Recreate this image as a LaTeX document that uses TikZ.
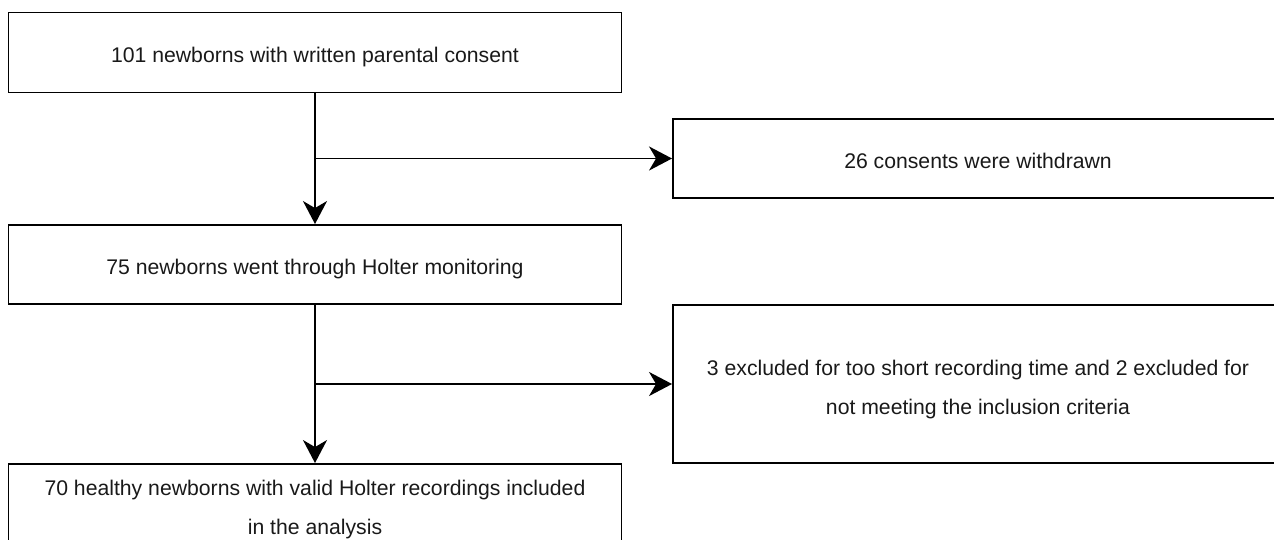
\documentclass[tikz,border=0pt]{standalone}
\usepackage{fontspec}
\setmainfont{Liberation Sans}
\usetikzlibrary{arrows.meta}
\begin{document}
\begin{tikzpicture}[x=1pt,y=-1pt,
  box/.style={draw=black, line width=1.9pt, rectangle, inner sep=0pt, align=center,
    text height=20pt, text depth=0pt,
    font=\fontsize{21.2}{39}\selectfont, text=black!90},
  twoline/.style={text height=61pt, text depth=0pt},
  conn/.style={line width=1.9pt, -{Stealth[length=23pt,width=24pt,inset=7pt]}}]
\useasboundingbox (0,0) rectangle (1274,539);
\clip (0,0) rectangle (1274,539);
\node[box, minimum width=613pt, minimum height=80pt] (a) at (315,52.5) {101 newborns with written parental consent};
\node[box, minimum width=610pt, minimum height=79pt] (b) at (978,158.5) {26 consents were withdrawn};
\node[box, minimum width=613pt, minimum height=79pt] (c) at (315,264.5) {75 newborns went through Holter monitoring};
\node[box, twoline, minimum width=610pt, minimum height=158pt] (d) at (978,384) {3 excluded for too short recording time and 2 excluded for\\not meeting the inclusion criteria};
\node[box, twoline, minimum width=613pt, minimum height=80pt] (e) at (315,504) {70 healthy newborns with valid Holter recordings included\\in the analysis};
\coordinate (b1) at (315,158.5);
\coordinate (b2) at (315,384);
\draw[conn] (a.south) -- (c.north);
\draw[conn] (b1) -- (b.west);
\draw[conn] (c.south) -- (e.north);
\draw[conn] (b2) -- (d.west);
\end{tikzpicture}
\end{document}
